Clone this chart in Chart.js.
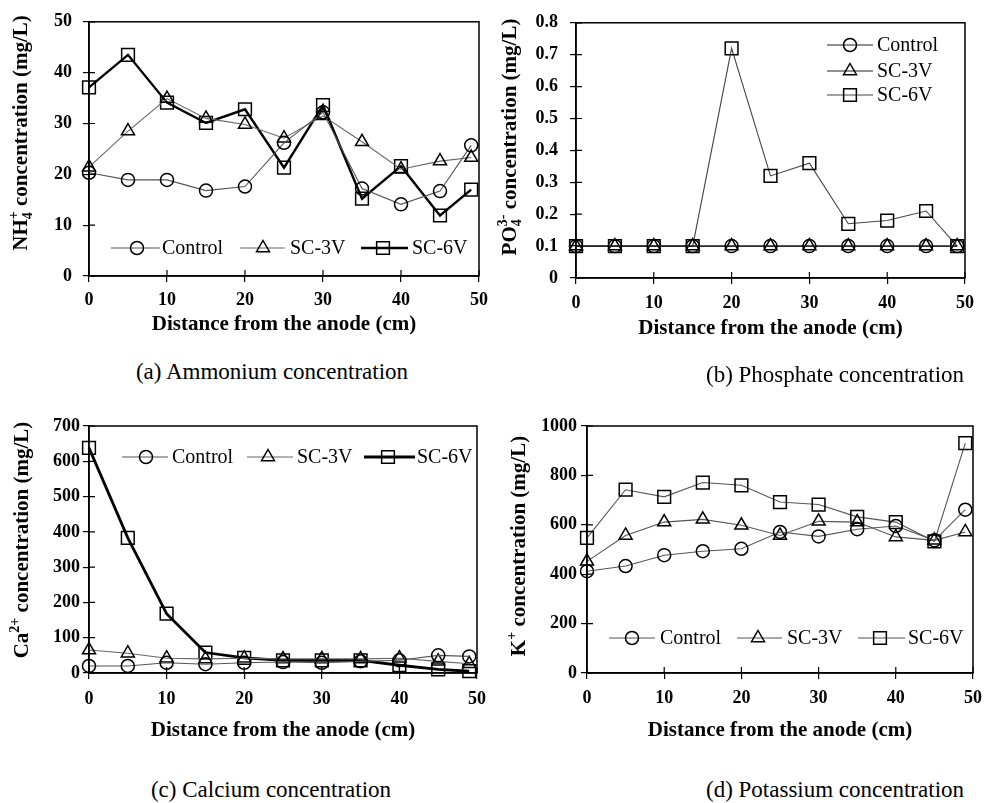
<!DOCTYPE html>
<html>
<head>
<meta charset="utf-8">
<script src="https://cdn.jsdelivr.net/npm/chart.js"></script>
<style>
  body { margin: 0; background: #fff; }
  #wrap { position: relative; width: 991px; height: 803px; overflow: hidden; }
  canvas { position: absolute; }
  .cap { position: absolute; width: 400px; text-align: center; font: 23px "Liberation Serif", "Times New Roman", serif; line-height: 28px; color: #000; white-space: nowrap; }
</style>
</head>
<body>
<div id="wrap">
  <canvas id="cA" width="496" height="345" style="left:0;top:0"></canvas>
  <canvas id="cB" width="496" height="345" style="left:495px;top:0"></canvas>
  <canvas id="cC" width="496" height="345" style="left:0;top:400px"></canvas>
  <canvas id="cD" width="496" height="345" style="left:495px;top:400px"></canvas>
  <div class="cap" style="left:72px;top:358px">(a) Ammonium concentration</div>
  <div class="cap" style="left:635px;top:361px">(b) Phosphate concentration</div>
  <div class="cap" style="left:71px;top:776px">(c) Calcium concentration</div>
  <div class="cap" style="left:635px;top:776px">(d) Potassium concentration</div>
</div>
<script>
const FONT = '"Liberation Serif", "Times New Roman", serif';

// ---- data ----
const dist = [0, 5, 10, 15, 20, 25, 30, 35, 40, 45, 49];
const seriesNames = ["Control", "SC-3V", "SC-6V"];

const ammControl = [20.3, 18.9, 18.9, 16.8, 17.6, 26.2, 32.2, 17.2, 14.1, 16.7, 25.7];
const amm3V = [21.4, 28.5, 34.9, 31.0, 29.8, 27.1, 31.5, 26.4, 21.0, 22.6, 23.3];
const amm6V = [37.1, 43.5, 34.1, 30.1, 32.8, 21.3, 33.6, 15.2, 21.6, 11.9, 17.0];

const phosControl = [0.1, 0.1, 0.1, 0.1, 0.1, 0.1, 0.1, 0.1, 0.1, 0.1, 0.1];
const phos3V = [0.1, 0.1, 0.1, 0.1, 0.1, 0.1, 0.1, 0.1, 0.1, 0.1, 0.1];
const phos6V = [0.1, 0.1, 0.1, 0.1, 0.72, 0.32, 0.36, 0.17, 0.18, 0.21, 0.1];

const caControl = [20, 20, 29, 25, 29, 31, 29, 33, 36, 50, 47];
const ca3V = [65, 56, 42, 40, 42, 40, 40, 40, 42, 33, 26];
const ca6V = [638, 383, 168, 58, 43, 36, 36, 36, 22, 10, 5];

const kControl = [412, 433, 477, 493, 503, 571, 553, 582, 595, 537, 661];
const k3V = [452, 557, 611, 622, 598, 557, 614, 611, 551, 537, 571];
const k6V = [547, 742, 713, 771, 760, 692, 682, 632, 611, 533, 931];

// ---- helpers ----
const RADIUS = { circle: 6.5, triangle: 7.5, rect: 9 };
const STYLES = ["circle", "triangle", "rect"];

function series(i, ys, color, width) {
  const st = STYLES[i];
  return {
    label: seriesNames[i],
    data: dist.map((x, k) => ({ x: x, y: ys[k] })),
    pointStyle: st,
    pointRadius: RADIUS[st],
    pointHoverRadius: RADIUS[st],
    pointBorderColor: "#000",
    pointBorderWidth: 1.5,
    pointBackgroundColor: "rgba(0,0,0,0)",
    borderColor: color,
    borderWidth: width,
    tension: 0,
    clip: false
  };
}

function marker(ctx, style, x, y, r) {
  ctx.beginPath();
  if (style === "circle") {
    ctx.arc(x, y, r, 0, Math.PI * 2);
  } else if (style === "triangle") {
    ctx.moveTo(x, y - r);
    ctx.lineTo(x + 0.866 * r, y + 0.5 * r);
    ctx.lineTo(x - 0.866 * r, y + 0.5 * r);
    ctx.closePath();
  } else {
    const s = r * Math.SQRT1_2;
    ctx.rect(x - s, y - s, 2 * s, 2 * s);
  }
  ctx.stroke();
}

// rotated y title with sub/superscripts
function drawRich(ctx, segs, cx, cy, size) {
  const big = "bold " + size + "px " + FONT;
  const small = "bold " + Math.round(size * 0.65) + "px " + FONT;
  const widths = segs.map(s => {
    if (s.t) { ctx.font = big; return ctx.measureText(s.t).width; }
    ctx.font = small;
    return Math.max(s.sub ? ctx.measureText(s.sub).width : 0, s.sup ? ctx.measureText(s.sup).width : 0);
  });
  const total = widths.reduce((a, b) => a + b, 0);
  ctx.save();
  ctx.translate(cx, cy);
  ctx.rotate(-Math.PI / 2);
  ctx.textBaseline = "middle";
  ctx.textAlign = "left";
  ctx.fillStyle = "#000";
  let x = -total / 2;
  segs.forEach((s, i) => {
    if (s.t) {
      ctx.font = big;
      ctx.fillText(s.t, x, 0);
    } else {
      ctx.font = small;
      if (s.sub) ctx.fillText(s.sub, x, size * 0.32);
      if (s.sup) ctx.fillText(s.sup, x, -size * 0.38);
    }
    x += widths[i];
  });
  ctx.restore();
}

// frame, cross ticks, y title, legend
const panelPlugin = {
  id: "panel",
  afterDraw(chart, args, opts) {
    const ctx = chart.ctx;
    const a = chart.chartArea;
    const xs = chart.scales.x, ys = chart.scales.y;
    ctx.save();
    ctx.strokeStyle = "#000";
    ctx.lineWidth = 1.5;
    ctx.strokeRect(a.left, a.top, a.right - a.left, a.bottom - a.top);
    ctx.lineWidth = 1.2;
    ctx.beginPath();
    xs.ticks.forEach(t => {
      const px = xs.getPixelForValue(t.value);
      ctx.moveTo(px, a.bottom);
      ctx.lineTo(px, a.bottom - 6);
    });
    ys.ticks.forEach(t => {
      const py = ys.getPixelForValue(t.value);
      ctx.moveTo(a.left, py);
      ctx.lineTo(a.left + 6, py);
    });
    ctx.stroke();

    drawRich(ctx, opts.yTitle, opts.yTitlePos[0], opts.yTitlePos[1], 21);

    chart.data.datasets.forEach((ds, i) => {
      const it = opts.legend[i]; // [lineStart, lineEnd, markerX, y, textX]
      ctx.strokeStyle = ds.borderColor;
      ctx.lineWidth = ds.borderWidth;
      ctx.beginPath();
      ctx.moveTo(it[0], it[3]);
      ctx.lineTo(it[1], it[3]);
      ctx.stroke();
      ctx.strokeStyle = "#000";
      ctx.lineWidth = ds.pointBorderWidth;
      marker(ctx, ds.pointStyle, it[2], it[3], ds.pointRadius);
      ctx.fillStyle = "#000";
      ctx.font = "20px " + FONT;
      ctx.textBaseline = "middle";
      ctx.textAlign = "left";
      ctx.fillText(ds.label, it[4], it[3] + 1);
    });
    ctx.restore();
  }
};

function makeChart(id, p) {
  const W = 496, H = 345;
  const tickFont = { family: FONT, size: 18, weight: "bold" };
  return new Chart(document.getElementById(id), {
    type: "line",
    data: { datasets: p.datasets },
    plugins: [panelPlugin],
    options: {
      responsive: false,
      maintainAspectRatio: false,
      devicePixelRatio: 1,
      animation: false,
      events: [],
      layout: { padding: { left: 0, top: p.area.T, right: W - p.area.R, bottom: 0 } },
      plugins: {
        legend: { display: false },
        tooltip: { enabled: false },
        panel: { yTitle: p.yTitle, yTitlePos: p.yTitlePos, legend: p.legend }
      },
      scales: {
        x: {
          type: "linear",
          min: 0,
          max: 50,
          afterFit: s => { s.height = H - p.area.B; },
          ticks: { stepSize: 10, color: "#000", font: tickFont, padding: p.xTickPad, maxRotation: 0 },
          grid: { display: true, drawOnChartArea: false, drawTicks: true, tickLength: 6, color: "#000", lineWidth: 1.2 },
          border: { display: true, color: "#000", width: 1.5 },
          title: {
            display: true,
            text: "Distance from the anode (cm)",
            color: "#000",
            font: { family: FONT, size: 21, weight: "bold" },
            padding: { top: 0, bottom: p.xTitlePad }
          }
        },
        y: {
          min: p.ymin,
          max: p.ymax,
          afterFit: s => { s.width = p.area.L; },
          ticks: { stepSize: p.step, color: "#000", font: tickFont, padding: p.yTickPad, callback: p.yFmt || (v => v) },
          grid: { display: true, drawOnChartArea: false, drawTicks: true, tickLength: 6, color: "#000", lineWidth: 1.2 },
          border: { display: true, color: "#000", width: 1.5 }
        }
      }
    }
  });
}

// (a) Ammonium
makeChart("cA", {
  datasets: [series(0, ammControl, "#555", 1.1), series(1, amm3V, "#666", 1.1), series(2, amm6V, "#000", 2.4)],
  ymin: 0, ymax: 50, step: 10,
  area: { L: 89, R: 480, T: 16, B: 276 },
  xTickPad: 8, yTickPad: 11, xTitlePad: 8,
  yTitle: [{ t: "NH" }, { sub: "4", sup: "+" }, { t: " concentration (mg/L)" }],
  yTitlePos: [22, 133],
  legend: [[111, 160, 137, 248, 162], [240, 285, 263, 248, 290], [361, 408, 383, 248, 412]]
});

// (b) Phosphate
makeChart("cB", {
  datasets: [series(0, phosControl, "#222", 1.2), series(1, phos3V, "#222", 1.2), series(2, phos6V, "#444", 1.1)],
  ymin: 0, ymax: 0.8, step: 0.1,
  area: { L: 81, R: 470, T: 16, B: 278 },
  xTickPad: 9, yTickPad: 12, xTitlePad: 4,
  yTitle: [{ t: "PO" }, { sub: "4", sup: "3-" }, { t: " concentration (mg/L)" }],
  yTitlePos: [16, 137],
  yFmt: v => (v === 0 ? "0" : v.toFixed(1)),
  legend: [[332, 378, 355, 45, 382], [332, 378, 355, 71, 382], [332, 378, 355, 95, 382]]
});

// (c) Calcium
makeChart("cC", {
  datasets: [series(0, caControl, "#555", 1.1), series(1, ca3V, "#666", 1.1), series(2, ca6V, "#000", 2.8)],
  ymin: 0, ymax: 700, step: 100,
  area: { L: 89, R: 481, T: 26, B: 273 },
  xTickPad: 10, yTickPad: 3, xTitlePad: 2,
  yTitle: [{ t: "Ca" }, { sup: "2+" }, { t: " concentration (mg/L)" }],
  yTitlePos: [23, 140],
  legend: [[122, 168, 146, 57, 172], [247, 293, 268, 57, 297], [364, 415, 388, 57, 417]]
});

// (d) Potassium
makeChart("cD", {
  datasets: [series(0, kControl, "#555", 1.1), series(1, k3V, "#555", 1.1), series(2, k6V, "#555", 1.1)],
  ymin: 0, ymax: 1000, step: 200,
  area: { L: 92, R: 483, T: 26, B: 273 },
  xTickPad: 9, yTickPad: 4, xTitlePad: 2,
  yTitle: [{ t: "K" }, { sup: "+" }, { t: " concentration (mg/L)" }],
  yTitlePos: [25, 146],
  legend: [[114, 160, 137, 238, 165], [242, 287, 263, 238, 292], [363, 410, 385, 238, 413]]
});
</script>
</body>
</html>
